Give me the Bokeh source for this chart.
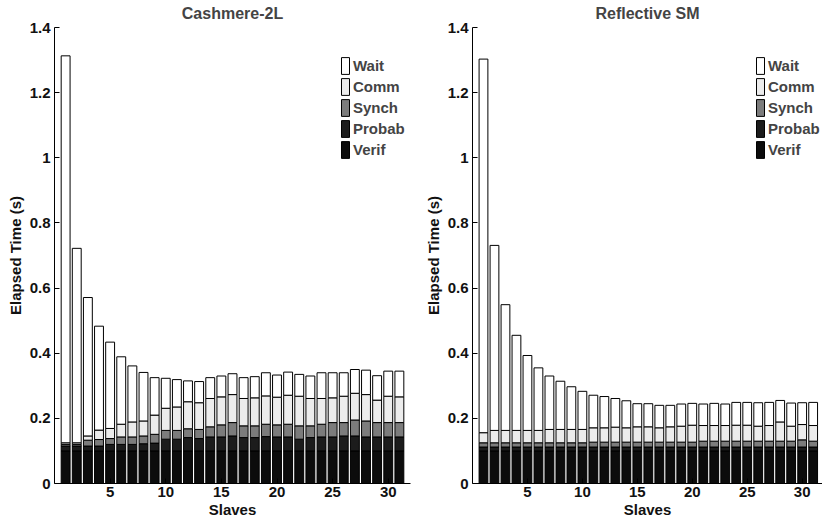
from bokeh.plotting import figure
from bokeh.layouts import row
from bokeh.models import ColumnDataSource, Range1d, FixedTicker, Legend, LegendItem
from bokeh.transform import stack
from bokeh.embed import file_html
from bokeh.resources import INLINE

slaves = list(range(1, 32))

# Cashmere-2L (left panel), elapsed seconds per component
c_verif = [0.100, 0.100, 0.100, 0.100, 0.100, 0.100, 0.100, 0.100, 0.100, 0.100, 0.100,
           0.100, 0.100, 0.100, 0.100, 0.100, 0.100, 0.100, 0.100, 0.100, 0.100, 0.100,
           0.100, 0.100, 0.100, 0.100, 0.100, 0.100, 0.100, 0.100, 0.100]
c_probab = [0.015, 0.015, 0.015, 0.015, 0.020, 0.020, 0.020, 0.022, 0.024, 0.036, 0.036,
            0.041, 0.038, 0.043, 0.043, 0.046, 0.041, 0.041, 0.044, 0.043, 0.043, 0.036,
            0.041, 0.043, 0.043, 0.046, 0.046, 0.043, 0.043, 0.043, 0.043]
c_synch = [0.005, 0.005, 0.018, 0.020, 0.018, 0.023, 0.023, 0.024, 0.027, 0.027, 0.027,
           0.027, 0.028, 0.031, 0.037, 0.041, 0.036, 0.036, 0.038, 0.037, 0.039, 0.041,
           0.036, 0.039, 0.044, 0.041, 0.049, 0.049, 0.044, 0.044, 0.044]
c_comm = [0.005, 0.005, 0.013, 0.029, 0.031, 0.039, 0.046, 0.046, 0.059, 0.068, 0.072,
          0.083, 0.082, 0.087, 0.086, 0.086, 0.084, 0.086, 0.087, 0.085, 0.089, 0.091,
          0.084, 0.079, 0.076, 0.081, 0.082, 0.081, 0.069, 0.081, 0.079]
c_wait = [1.188, 0.597, 0.425, 0.319, 0.265, 0.207, 0.172, 0.149, 0.115, 0.092, 0.084,
          0.064, 0.065, 0.064, 0.064, 0.064, 0.064, 0.065, 0.071, 0.068, 0.071, 0.067,
          0.069, 0.079, 0.077, 0.072, 0.073, 0.075, 0.075, 0.077, 0.079]

# Reflective SM (right panel)
r_verif = [0.100, 0.100, 0.100, 0.100, 0.100, 0.100, 0.100, 0.100, 0.100, 0.100, 0.100,
           0.100, 0.100, 0.100, 0.100, 0.100, 0.100, 0.100, 0.100, 0.100, 0.100, 0.100,
           0.100, 0.100, 0.100, 0.100, 0.100, 0.100, 0.100, 0.100, 0.100]
r_probab = [0.012, 0.012, 0.012, 0.012, 0.012, 0.012, 0.012, 0.012, 0.012, 0.012, 0.012,
            0.012, 0.012, 0.012, 0.012, 0.012, 0.012, 0.012, 0.012, 0.012, 0.012, 0.012,
            0.012, 0.012, 0.012, 0.012, 0.012, 0.012, 0.012, 0.012, 0.012]
r_synch = [0.013, 0.013, 0.013, 0.013, 0.013, 0.013, 0.013, 0.013, 0.013, 0.013, 0.015,
           0.015, 0.015, 0.015, 0.015, 0.015, 0.015, 0.015, 0.015, 0.015, 0.018, 0.018,
           0.018, 0.018, 0.018, 0.018, 0.018, 0.018, 0.018, 0.022, 0.018]
r_comm = [0.031, 0.038, 0.038, 0.038, 0.038, 0.038, 0.041, 0.041, 0.041, 0.041, 0.044,
          0.044, 0.046, 0.044, 0.047, 0.047, 0.044, 0.047, 0.049, 0.052, 0.048, 0.048,
          0.048, 0.049, 0.049, 0.046, 0.048, 0.059, 0.046, 0.047, 0.048]
r_wait = [1.147, 0.568, 0.386, 0.292, 0.230, 0.192, 0.164, 0.148, 0.131, 0.117, 0.100,
          0.096, 0.088, 0.083, 0.071, 0.071, 0.069, 0.066, 0.068, 0.067, 0.066, 0.068,
          0.066, 0.070, 0.070, 0.072, 0.071, 0.066, 0.071, 0.067, 0.071]

components = ["Verif", "Probab", "Synch", "Comm", "Wait"]
legend_order = ["Wait", "Comm", "Synch", "Probab", "Verif"]
fills = {"Verif": "#0c0c0c", "Probab": "#1c1c1c", "Synch": "#7c7c7c",
         "Comm": "#ececec", "Wait": "#ffffff"}

xtick_vals = [5, 10, 15, 20, 25, 30]
ytick_vals = [0.0, 0.2, 0.4, 0.6, 0.8, 1.0, 1.2, 1.4]
ytick_labels = ["0", "0.2", "0.4", "0.6", "0.8", "1", "1.2", "1.4"]

FONT = "Liberation Sans"
FS = "15px"


def panel(title, series, width, border_left, border_right, x_end, legend_x):
    data = dict(x=slaves)
    data.update(series)
    src = ColumnDataSource(data)
    p = figure(width=width, height=523, output_backend="svg", toolbar_location=None,
               x_range=Range1d(0, x_end), y_range=Range1d(0, 1.4),
               min_border_left=border_left, min_border_right=border_right,
               min_border_top=27, min_border_bottom=40, title=title)
    p.outline_line_color = None
    p.grid.visible = False
    p.background_fill_color = "white"
    p.border_fill_color = "white"

    renderers = {}
    for i, name in enumerate(components):
        r = p.vbar(x="x", width=0.8, bottom=stack(*components[:i]),
                   top=stack(*components[:i + 1]), source=src,
                   fill_color=fills[name], line_color="black", line_width=1)
        renderers[name] = r

    items = [LegendItem(label=n, renderers=[renderers[n]]) for n in legend_order]
    leg = Legend(items=items, location=(legend_x, 323), spacing=0, padding=0, margin=0,
                 glyph_width=10, glyph_height=21, label_height=21, label_standoff=3,
                 border_line_alpha=0, background_fill_alpha=0,
                 label_text_font=FONT, label_text_font_size=FS,
                 label_text_font_style="bold")
    p.add_layout(leg)

    p.title.align = "center"
    p.title.vertical_align = "top"
    p.title.text_font = FONT
    p.title.text_font_size = "16px"
    p.title.text_font_style = "bold"
    p.title.text_line_height = 1.0
    p.title.standoff = 8

    p.xaxis.ticker = FixedTicker(ticks=xtick_vals)
    p.yaxis.ticker = FixedTicker(ticks=ytick_vals)
    p.yaxis.major_label_overrides = dict(zip(ytick_vals, ytick_labels))
    p.xaxis.axis_label = "Slaves"
    p.yaxis.axis_label = "Elapsed Time (s)"
    for ax in (p.xaxis[0], p.yaxis[0]):
        ax.major_tick_in = 5
        ax.major_tick_out = 0
        ax.minor_tick_line_color = None
        ax.axis_line_color = "black"
        ax.major_tick_line_color = "black"
        ax.major_label_text_font = FONT
        ax.major_label_text_font_size = FS
        ax.major_label_text_font_style = "bold"
        ax.axis_label_text_font = FONT
        ax.axis_label_text_font_size = FS
        ax.axis_label_text_font_style = "bold"
        ax.major_label_text_color = "#111111"
        ax.axis_label_text_color = "#111111"
    p.yaxis.major_label_standoff = 4
    p.yaxis.axis_label_standoff = 3
    p.xaxis.major_label_standoff = 3
    p.xaxis.axis_label_standoff = 1
    return p


left = panel("Cashmere-2L",
             {"Verif": c_verif, "Probab": c_probab, "Synch": c_synch,
              "Comm": c_comm, "Wait": c_wait},
             421, 54, 11, 32, 286)
right = panel("Reflective SM",
              {"Verif": r_verif, "Probab": r_probab, "Synch": r_synch,
               "Comm": r_comm, "Wait": r_wait},
              401, 47, 0, 31.85, 283)

layout = row(left, right)
open("out.html", "w").write(file_html(layout, INLINE))
